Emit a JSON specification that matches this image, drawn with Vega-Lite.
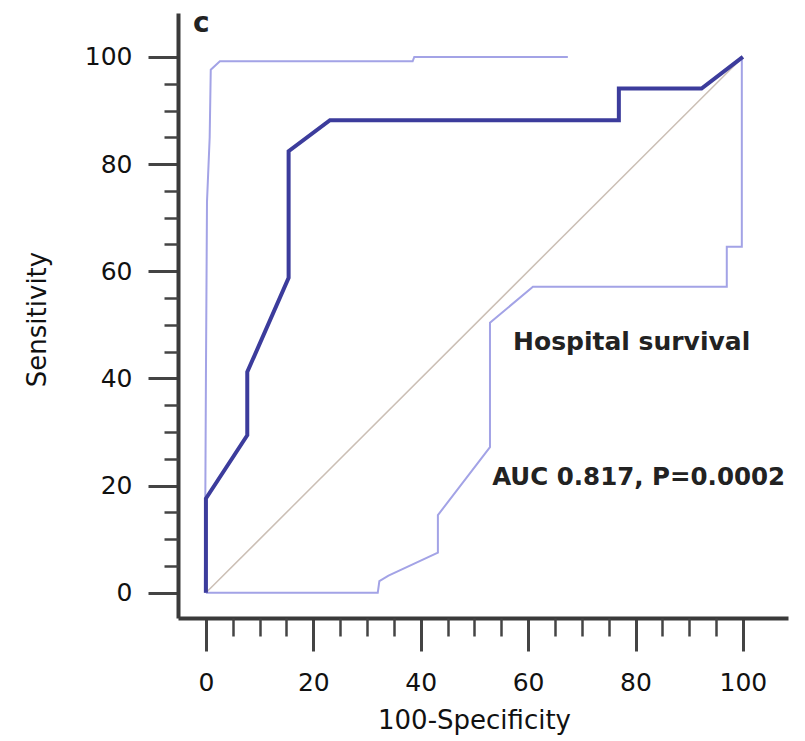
{
  "$schema": "https://vega.github.io/schema/vega-lite/v6.json",
  "width": 610,
  "height": 605,
  "autosize": {"type": "none"},
  "padding": {"left": 178, "top": 13, "right": 17, "bottom": 123},
  "background": "white",
  "config": {"view": {"stroke": null}},
  "resolve": {"axis": {"x": "independent", "y": "independent"}},
  "layer": [
    {
      "data": {"values": [{"i": 0, "x": 0, "y": 0}, {"i": 1, "x": 100, "y": 100}]},
      "mark": {"type": "line", "color": "#cbbfb5", "strokeWidth": 1.5},
      "encoding": {
        "x": {"field": "x", "type": "quantitative",
          "scale": {"domain": [-5.2, 108.4], "nice": false, "zero": false},
          "axis": {"orient": "bottom", "values": [0, 20, 40, 60, 80, 100], "grid": false,
            "domain": true, "domainWidth": 4, "domainColor": "#3a3a3a",
            "tickSize": 33, "tickWidth": 3, "tickColor": "#444",
            "labelFont": "DejaVu Sans", "labelFontSize": 25, "labelColor": "#111", "labelPadding": 19,
            "title": "100-Specificity", "titleFont": "DejaVu Sans", "titleFontSize": 26, "titleFontWeight": "normal",
            "titleColor": "#111", "titleX": 296, "titleY": 110, "titleAlign": "center", "titleBaseline": "alphabetic"}},
        "y": {"field": "y", "type": "quantitative",
          "scale": {"domain": [-4.7, 108.2], "nice": false, "zero": false},
          "axis": {"orient": "left", "values": [0, 20, 40, 60, 80, 100], "grid": false,
            "domain": true, "domainWidth": 4, "domainColor": "#3a3a3a",
            "tickSize": 30, "tickWidth": 3, "tickColor": "#444",
            "labelFont": "DejaVu Sans", "labelFontSize": 25, "labelColor": "#111", "labelPadding": 16,
            "title": "Sensitivity", "titleFont": "DejaVu Sans", "titleFontSize": 26, "titleFontWeight": "normal",
            "titleColor": "#111", "titleAngle": -90, "titleX": -133, "titleY": 306, "titleAlign": "center", "titleBaseline": "alphabetic"}},
        "order": {"field": "i", "type": "quantitative"}
      }
    },
    {
      "data": {"values": [
        {"i": 0, "x": 0, "y": 0}, {"i": 1, "x": 32, "y": 0}, {"i": 2, "x": 32.3, "y": 2.2},
        {"i": 3, "x": 34, "y": 3.2}, {"i": 4, "x": 43.2, "y": 7.5}, {"i": 5, "x": 43.2, "y": 14.5},
        {"i": 6, "x": 52.9, "y": 27.2}, {"i": 7, "x": 52.9, "y": 50.4}, {"i": 8, "x": 60.9, "y": 57.1},
        {"i": 9, "x": 97, "y": 57.1}, {"i": 10, "x": 97, "y": 64.6}, {"i": 11, "x": 99.8, "y": 64.6},
        {"i": 12, "x": 99.8, "y": 99.5}
      ]},
      "mark": {"type": "line", "color": "#a3a3e6", "strokeWidth": 2},
      "encoding": {
        "x": {"field": "x", "type": "quantitative",
          "axis": {"orient": "bottom", "values": [5, 10, 15, 25, 30, 35, 45, 50, 55, 65, 70, 75, 85, 90, 95], "grid": false,
            "domain": false, "labels": false, "title": null,
            "tickSize": 18, "tickWidth": 2.5, "tickColor": "#444"}},
        "y": {"field": "y", "type": "quantitative",
          "axis": {"orient": "left", "values": [5, 10, 15, 25, 30, 35, 45, 50, 55, 65, 70, 75, 85, 90, 95], "grid": false,
            "domain": false, "labels": false, "title": null,
            "tickSize": 14, "tickWidth": 2.5, "tickColor": "#444"}},
        "order": {"field": "i", "type": "quantitative"}
      }
    },
    {
      "data": {"values": [
        {"i": 0, "x": -0.2, "y": 0}, {"i": 1, "x": 0, "y": 40}, {"i": 2, "x": 0.2, "y": 73},
        {"i": 3, "x": 0.7, "y": 85}, {"i": 4, "x": 0.9, "y": 97.6}, {"i": 5, "x": 2.6, "y": 99.2},
        {"i": 6, "x": 38.5, "y": 99.2}, {"i": 7, "x": 38.8, "y": 100}, {"i": 8, "x": 67.4, "y": 100}
      ]},
      "mark": {"type": "line", "color": "#a3a3e6", "strokeWidth": 2},
      "encoding": {
        "x": {"field": "x", "type": "quantitative", "axis": null},
        "y": {"field": "y", "type": "quantitative", "axis": null},
        "order": {"field": "i", "type": "quantitative"}
      }
    },
    {
      "data": {"values": [
        {"i": 0, "x": 0, "y": 0}, {"i": 1, "x": 0, "y": 17.6}, {"i": 2, "x": 7.7, "y": 29.4},
        {"i": 3, "x": 7.7, "y": 41.2}, {"i": 4, "x": 15.4, "y": 58.8}, {"i": 5, "x": 15.4, "y": 82.4},
        {"i": 6, "x": 23.1, "y": 88.2}, {"i": 7, "x": 76.9, "y": 88.2}, {"i": 8, "x": 76.9, "y": 94.1},
        {"i": 9, "x": 92.3, "y": 94.1}, {"i": 10, "x": 100, "y": 100}
      ]},
      "mark": {"type": "line", "color": "#3c3c9c", "strokeWidth": 4, "strokeJoin": "miter"},
      "encoding": {
        "x": {"field": "x", "type": "quantitative", "axis": null},
        "y": {"field": "y", "type": "quantitative", "axis": null},
        "order": {"field": "i", "type": "quantitative"}
      }
    },
    {
      "data": {"values": [
        {"x": 57.2, "y": 45.3, "label": "Hospital survival", "size": 25},
        {"x": 53.3, "y": 20.1, "label": "AUC 0.817, P=0.0002", "size": 24.5},
        {"x": -2.4, "y": 104.7, "label": "c", "size": 28}
      ]},
      "mark": {"type": "text", "align": "left", "baseline": "alphabetic", "fontWeight": "bold", "color": "#222", "font": "DejaVu Sans"},
      "encoding": {
        "x": {"field": "x", "type": "quantitative", "axis": null},
        "y": {"field": "y", "type": "quantitative", "axis": null},
        "text": {"field": "label"},
        "size": {"field": "size", "type": "quantitative", "scale": null}
      }
    }
  ]
}
